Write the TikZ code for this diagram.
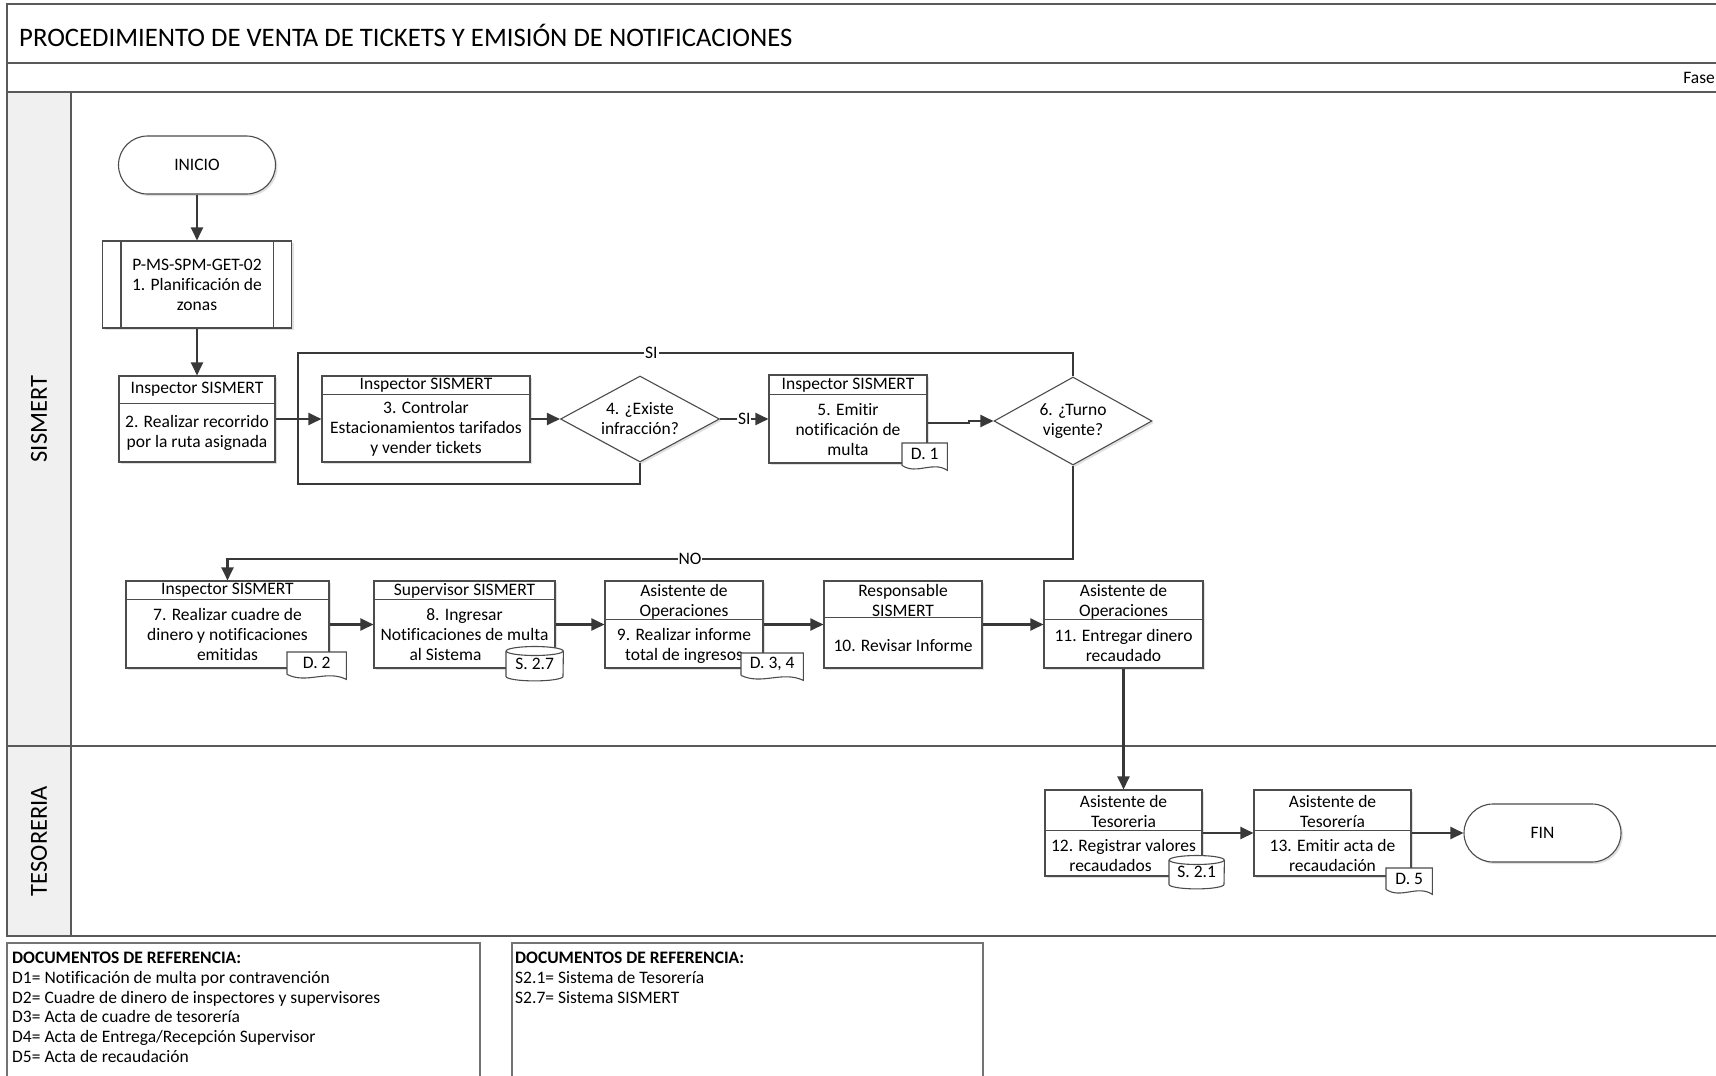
\documentclass[tikz,border=0pt]{standalone}
\usepackage{fontspec}
\setmainfont[Ligatures={NoCommon}]{Carlito}
\usepackage{tikz}
\usetikzlibrary{shapes.geometric, arrows.meta, calc, shadows}

\begin{document}
\begin{tikzpicture}[x=1pt,y=-1pt,>={Triangle[length=13pt,width=12pt]},
                    line join=miter]
\tikzset{font=\fontsize{17.5pt}{20pt}\selectfont}
\tikzset{frameline/.style={draw=black!65,line width=1.5pt},
         boxline/.style={draw=black!70,line width=1.1pt},
         stepbox/.style={boxline,fill=white,inner sep=0pt,
                         drop shadow={shadow xshift=2pt,shadow yshift=-2pt,fill=black!12,opacity=1}},
         headbox/.style={inner sep=0pt,anchor=north,align=center},
         bodytext/.style={inner sep=0pt,align=center},
         decision/.style={stepbox,diamond,aspect=1.8,align=center},
         terminal/.style={stepbox,rounded corners=29pt,minimum width=157,minimum height=58},
         flow/.style={->,draw=black!78,line width=2.2pt},
         loopline/.style={draw=black!78,line width=2.2pt},
         flowlabel/.style={fill=white,inner sep=1pt},
         doctag/.style={fill=white,inner sep=0pt},
         legend/.style={anchor=north west,inner sep=0pt,align=left,
                        font=\fontsize{17.5pt}{19.7pt}\selectfont}}

\useasboundingbox (0,0) rectangle (1716,1076);

% marco y carriles
\fill[black!6] (7,92) rectangle (71,936);
\draw[frameline] (1740,4) -- (7,4) -- (7,936) -- (1740,936);
\draw[frameline] (7,63) -- (1740,63);
\draw[frameline] (7,92) -- (1740,92);
\draw[frameline] (7,746) -- (1740,746);
\draw[frameline] (71,92) -- (71,936);

\node[anchor=west,inner sep=0pt,font=\fontsize{26.7pt}{30pt}\selectfont] (title) at (19,35)
     {PROCEDIMIENTO DE VENTA DE TICKETS Y EMISIÓN DE NOTIFICACIONES};
\node[anchor=east,inner sep=0pt] (fase) at (1715,78) {Fase};
\node[rotate=90,font=\fontsize{24.5pt}{28pt}\selectfont] (lane1) at (39,419) {SISMERT};
\node[rotate=90,font=\fontsize{24.5pt}{28pt}\selectfont] (lane2) at (39,841) {TESORERIA};

% fila 1
\node[terminal] (inicio) at (197,165) {INICIO};

\node[stepbox,minimum width=189,minimum height=87,align=center] (s1) at (197,284.5)
     {P-MS-SPM-GET-02\\1. Planificación de\\zonas};
\draw[boxline] ($(s1.north west)+(19,0)$) -- ($(s1.south west)+(19,0)$);
\draw[boxline] ($(s1.north east)+(-19,0)$) -- ($(s1.south east)+(-19,0)$);

\node[stepbox,minimum width=156,minimum height=86] (s2) at (197,419) {};
\node[headbox,minimum width=156,minimum height=28] (h2) at (s2.north) {Inspector SISMERT};
\draw[boxline] (h2.south west) -- (h2.south east);
\node[bodytext] (t2) at ($(h2.south)!0.5!(s2.south)$) {2. Realizar recorrido\\por la ruta asignada};

\node[stepbox,minimum width=208,minimum height=86] (s3) at (426,419) {};
\node[headbox,minimum width=208,minimum height=19] (h3) at ($(s3.north)+(0,0.5)$) {Inspector SISMERT};
\draw[boxline] ($(h3.south west)+(0,-0.5)$) -- ($(h3.south east)+(0,-0.5)$);
\node[bodytext] (t3) at ($(h3.south)!0.5!(s3.south)$) {3. Controlar\\Estacionamientos tarifados\\y vender tickets};

\node[decision,minimum width=159,minimum height=86] (d4) at (640,419) {4. ¿Existe\\infracción?};

\node[stepbox,minimum width=158,minimum height=88] (s5) at (848,419) {};
\node[headbox,minimum width=158,minimum height=20] (h5) at ($(s5.north)+(0,0.5)$) {Inspector SISMERT};
\draw[boxline] ($(h5.south west)+(0,-0.5)$) -- ($(h5.south east)+(0,-0.5)$);
\node[bodytext] (t5) at ($(h5.south)!0.5!(s5.south)$) {5. Emitir\\notificación de\\multa};

\node[decision,minimum width=158,minimum height=88] (d6) at (1073,421) {6. ¿Turno\\vigente?};

% fila 2
\node[stepbox,minimum width=203,minimum height=87] (s7) at (227.5,624.5) {};
\node[headbox,minimum width=203,minimum height=19] (h7) at ($(s7.north)+(0,0.5)$) {Inspector SISMERT};
\draw[boxline] ($(h7.south west)+(0,-0.5)$) -- ($(h7.south east)+(0,-0.5)$);
\node[bodytext] (t7) at ($(h7.south)!0.5!(s7.south)$) {7. Realizar cuadre de\\dinero y notificaciones\\emitidas};

\node[stepbox,minimum width=181,minimum height=87] (s8) at (464.5,624.5) {};
\node[headbox,minimum width=181,minimum height=19] (h8) at ($(s8.north)+(0,0.5)$) {Supervisor SISMERT};
\draw[boxline] ($(h8.south west)+(0,-0.5)$) -- ($(h8.south east)+(0,-0.5)$);
\node[bodytext] (t8) at ($(h8.south)!0.5!(s8.south)$) {8. Ingresar\\Notificaciones de multa\\al Sistema\hspace*{38pt}};

\node[stepbox,minimum width=158,minimum height=87] (s9) at (684,624.5) {};
\node[headbox,minimum width=158,minimum height=39] (h9) at ($(s9.north)+(0,1.5)$) {Asistente de\\Operaciones};
\draw[boxline] ($(h9.south west)+(0,-1.5)$) -- ($(h9.south east)+(0,-1.5)$);
\node[bodytext] (t9) at ($(h9.south)!0.5!(s9.south)+(0,1)$) {9. Realizar informe\\total de ingresos};

\node[stepbox,minimum width=158,minimum height=87] (s10) at (903,624.5) {};
\node[headbox,minimum width=158,minimum height=37] (h10) at ($(s10.north)+(0,1.5)$) {Responsable\\SISMERT};
\draw[boxline] ($(h10.south west)+(0,-1.5)$) -- ($(h10.south east)+(0,-1.5)$);
\node[bodytext] (t10) at ($(h10.south)!0.5!(s10.south)+(0,2)$) {10. Revisar Informe};

\node[stepbox,minimum width=159,minimum height=87] (s11) at (1123.5,624.5) {};
\node[headbox,minimum width=159,minimum height=39] (h11) at ($(s11.north)+(0,1.5)$) {Asistente de\\Operaciones};
\draw[boxline] ($(h11.south west)+(0,-1.5)$) -- ($(h11.south east)+(0,-1.5)$);
\node[bodytext] (t11) at ($(h11.south)!0.5!(s11.south)+(0,1)$) {11. Entregar dinero\\recaudado};

% tesoreria
\node[stepbox,minimum width=157,minimum height=86] (s12) at (1123.5,833) {};
\node[headbox,minimum width=157,minimum height=41] (h12) at ($(s12.north)+(0,1)$) {Asistente de\\Tesoreria};
\draw[boxline] ($(h12.south west)+(0,-1)$) -- ($(h12.south east)+(0,-1)$);
\node[bodytext] (t12) at ($(h12.south)!0.5!(s12.south)+(0,1)$) {12. Registrar valores\\recaudados\hspace*{26pt}};

\node[stepbox,minimum width=157,minimum height=86] (s13) at (1332.5,833) {};
\node[headbox,minimum width=157,minimum height=41] (h13) at ($(s13.north)+(0,1)$) {Asistente de\\Tesorería};
\draw[boxline] ($(h13.south west)+(0,-1)$) -- ($(h13.south east)+(0,-1)$);
\node[bodytext] (t13) at ($(h13.south)!0.5!(s13.south)+(0,1)$) {13. Emitir acta de\\recaudación};

\node[terminal] (fin) at (1542.5,833) {FIN};

% documentos y sistemas
\node[doctag,anchor=north west,minimum width=45,minimum height=22] (tag1) at (902,443) {D. 1};
\draw[boxline] (tag1.south west) -- (tag1.north west) -- (tag1.north east) -- ($(tag1.south east)+(0,5)$)
   .. controls ($(tag1.south east)+(-15,-5)$) and ($(tag1.south west)+(15,10)$) .. (tag1.south west);

\node[doctag,anchor=north west,minimum width=59,minimum height=22] (tag2) at (287,652) {D. 2};
\draw[boxline] (tag2.south west) -- (tag2.north west) -- (tag2.north east) -- ($(tag2.south east)+(0,5)$)
   .. controls ($(tag2.south east)+(-20,-5)$) and ($(tag2.south west)+(20,10)$) .. (tag2.south west);

\node[doctag,anchor=north west,minimum width=62,minimum height=22] (tag3) at (741,653) {D. 3, 4};
\draw[boxline] (tag3.south west) -- (tag3.north west) -- (tag3.north east) -- ($(tag3.south east)+(0,5)$)
   .. controls ($(tag3.south east)+(-21,-5)$) and ($(tag3.south west)+(21,10)$) .. (tag3.south west);

\node[doctag,anchor=north west,minimum width=46,minimum height=21] (tag5) at (1386,868) {D. 5};
\draw[boxline] (tag5.south west) -- (tag5.north west) -- (tag5.north east) -- ($(tag5.south east)+(0,5)$)
   .. controls ($(tag5.south east)+(-15,-5)$) and ($(tag5.south west)+(15,10)$) .. (tag5.south west);

\node[doctag,anchor=north west,minimum width=57,minimum height=25] (sys27) at (506,651) {\raisebox{-3pt}{S. 2.7}};
\draw[boxline] (sys27.north west) -- (sys27.south west)
   arc[start angle=180,end angle=360,x radius=28.5pt,y radius=4.5pt] -- (sys27.north east);
\draw[boxline,fill=white] (sys27.north) ellipse[x radius=28.5pt,y radius=4.5pt];

\node[doctag,anchor=north west,minimum width=55,minimum height=24] (sys21) at (1169,860) {\raisebox{-3pt}{S. 2.1}};
\draw[boxline] (sys21.north west) -- (sys21.south west)
   arc[start angle=180,end angle=360,x radius=27.5pt,y radius=4.5pt] -- (sys21.north east);
\draw[boxline,fill=white] (sys21.north) ellipse[x radius=27.5pt,y radius=4.5pt];

% conectores
\coordinate (looptop) at (298,353);
\coordinate (loopbot) at (298,484);
\coordinate (nojoin) at (227.5,559);
\coordinate (jog) at (969,423);

\draw[flow] (inicio) -- (s1);
\draw[flow] (s1) -- (s2);
\draw[flow] (s2) -- (s3);
\draw[flow] (s3) -- (d4);
\draw[flow] (d4) -- node[flowlabel] {SI} (s5);
\draw[flow] ($(s5.east)+(0,4)$) -- (jog) -- (jog |- d6.west) -- (d6.west);
\draw[loopline] (d6.north) |- node[flowlabel,pos=0.772] {SI} (looptop) -- (loopbot) -| (d4.south);
\draw[flow] (d6.south) |- node[flowlabel,pos=0.7265] {NO} (nojoin) -- (s7.north);
\draw[flow] (s7) -- (s8);
\draw[flow] (s8) -- (s9);
\draw[flow] (s9) -- (s10);
\draw[flow] (s10) -- (s11);
\draw[flow] (s11) -- (s12);
\draw[flow] (s12) -- (s13);
\draw[flow] (s13) -- (fin);

% documentos de referencia
\draw[draw=black!55,line width=1.2pt] (7,943) rectangle (480,1090);
\draw[draw=black!55,line width=1.2pt] (512,943) rectangle (983,1090);
\node[legend] (ref1) at (12,952) {\textbf{DOCUMENTOS DE REFERENCIA:}\\
  D1= Notificación de multa por contravención\\
  D2= Cuadre de dinero de inspectores y supervisores\\
  D3= Acta de cuadre de tesorería\\
  D4= Acta de Entrega/Recepción Supervisor\\
  D5= Acta de recaudación};
\node[legend] (ref2) at (515,952) {\textbf{DOCUMENTOS DE REFERENCIA:}\\
  S2.1= Sistema de Tesorería\\
  S2.7= Sistema SISMERT};

\end{tikzpicture}
\end{document}
